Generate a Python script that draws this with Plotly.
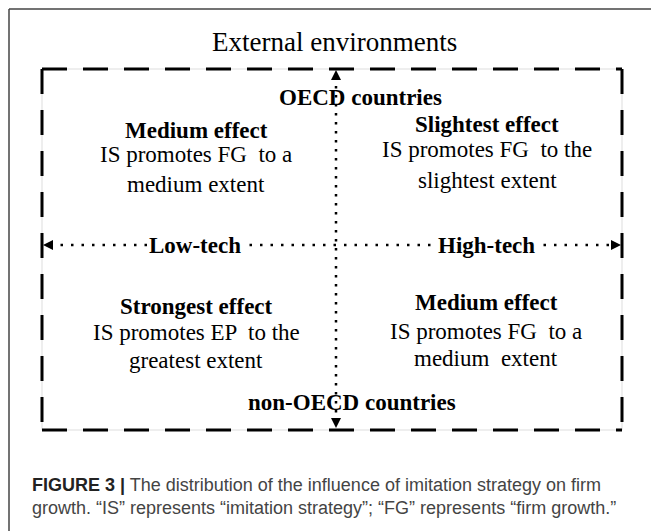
import plotly.graph_objects as go

# ---- content ----
title_text = "External environments"
top_label = "OECD countries"
bottom_label = "non-OECD countries"
left_label = "Low-tech"
right_label = "High-tech"
quad_heads = ["Medium effect", "Slightest effect", "Strongest effect", "Medium effect"]
quad_line1 = ["IS promotes FG  to a", "IS promotes FG  to the", "IS promotes EP  to the", "IS promotes FG  to a"]
quad_line2 = ["medium extent", "slightest extent", "greatest extent", "medium  extent"]
caption_bold = "FIGURE 3 |"
caption_l1 = " The distribution of the influence of imitation strategy on firm"
caption_l2 = "growth. \u201cIS\u201d represents \u201cimitation strategy\u201d; \u201cFG\u201d represents \u201cfirm growth.\u201d"

W, H = 659, 531
OFF = 8  # page body margin
SERIF = "Liberation Serif, Times New Roman, serif"
SANS = "Liberation Sans, Arial, sans-serif"

# layout geometry (page pixel coordinates)
bx0, bx1, by0, by1 = 42, 622, 69, 430
cx, cy = 336, 245

fig = go.Figure()
shapes = []
ann = []

# outer page frame (top + left)
shapes.append(dict(type="line", x0=9, y0=9, x1=W, y1=9, line=dict(color="#444", width=1.5)))
shapes.append(dict(type="line", x0=9, y0=9, x1=9, y1=H, line=dict(color="#444", width=1.5)))

# faint guide + dashed box
shapes.append(dict(type="rect", x0=bx0, y0=by0, x1=bx1, y1=by1, line=dict(color="#dddddd", width=1)))
for (x0, y0, x1, y1) in [(bx0, by0, bx1, by0), (bx0, by1, bx1, by1), (bx0, by0, bx0, by1), (bx1, by0, bx1, by1)]:
    shapes.append(dict(type="line", x0=x0, y0=y0, x1=x1, y1=y1,
                       line=dict(color="black", width=3, dash="25px,16px")))

# dotted axes
shapes.append(dict(type="line", x0=cx, y0=by0 + 8, x1=cx, y1=by1 - 8,
                   line=dict(color="black", width=2.5, dash="2.5px,6.5px")))
shapes.append(dict(type="line", x0=bx0 + 8, y0=cy, x1=bx1 - 8, y1=cy,
                   line=dict(color="black", width=2.5, dash="2.5px,8px")))

def tri(tx, ty, direction, s=5):
    if direction == "up":
        p = [(tx, ty), (tx - s, ty + 2 * s), (tx + s, ty + 2 * s)]
    elif direction == "down":
        p = [(tx, ty), (tx - s, ty - 2 * s), (tx + s, ty - 2 * s)]
    elif direction == "left":
        p = [(tx, ty), (tx + 2 * s, ty - s), (tx + 2 * s, ty + s)]
    else:
        p = [(tx, ty), (tx - 2 * s, ty - s), (tx - 2 * s, ty + s)]
    path = "M " + " L ".join(f"{a},{b}" for a, b in p) + " Z"
    return dict(type="path", path=path, fillcolor="black", line=dict(color="black", width=0))

shapes += [tri(cx, by0 + 1, "up"), tri(cx, by1 - 2, "down"),
           tri(bx0 + 1, cy, "left"), tri(bx1 - 1, cy, "right")]

def t(x, y, text, size=23, bold=False, font=SERIF, color="black", bg=None, xanchor="center"):
    d = dict(x=x, y=y, text=(f"<b>{text}</b>" if bold else text), showarrow=False,
             xref="x", yref="y", xanchor=xanchor, yanchor="middle",
             font=dict(family=font, size=size, color=color))
    if bg:
        d.update(bgcolor=bg, borderpad=1)
    ann.append(d)

t(334, 42, title_text, size=27)
t(360, 97, top_label, bold=True, size=23)
t(352, 402, bottom_label, bold=True, size=23)
t(195, cy, left_label, bold=True, size=23, bg="white")
t(486, cy, right_label, bold=True, size=23, bg="white")

qx = [196, 487, 196, 486]
qy = [(130, 154, 184), (124, 149, 180), (306, 332, 360), (302, 331, 358)]
for i in range(4):
    t(qx[i], qy[i][0], quad_heads[i], bold=True)
    t(qx[i], qy[i][1], quad_line1[i])
    t(qx[i], qy[i][2], quad_line2[i])

t(30, 485, f"<b style='color:#222'>{caption_bold}</b>{caption_l1}", size=18, font=SANS, color="#444", xanchor="left")
t(30, 508, caption_l2, size=18, font=SANS, color="#444", xanchor="left")

fig.update_layout(
    width=W - OFF, height=H - OFF, margin=dict(l=0, r=0, t=0, b=0),
    paper_bgcolor="white", plot_bgcolor="white",
    xaxis=dict(range=[OFF, W], visible=False, fixedrange=True),
    yaxis=dict(range=[H, OFF], visible=False, fixedrange=True),
    shapes=shapes, annotations=ann, showlegend=False,
)
fig.write_html("out.html")
